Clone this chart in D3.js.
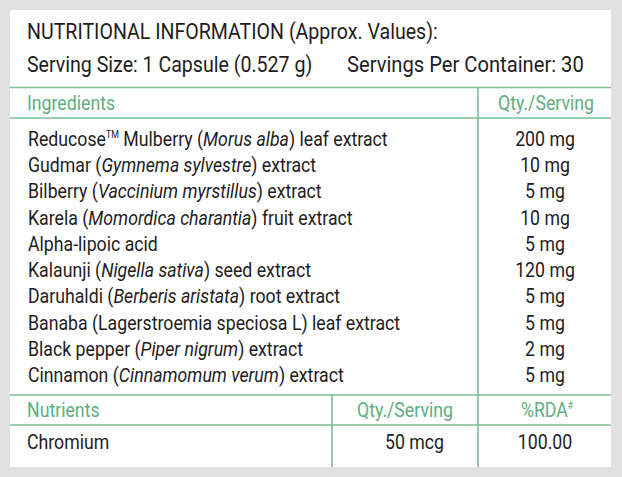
<!DOCTYPE html>
<html>
<head>
<meta charset="utf-8">
<script src="https://cdn.jsdelivr.net/npm/d3@7"></script>
<style>
  body { margin: 0; background: #e1e1e1; }
  svg { display: block; }
  text { font-family: "Roboto", "DejaVu Sans", sans-serif; fill: #1f1c1d; }
  .green { fill: #5fae80; }
</style>
</head>
<body>
<svg id="chart" width="622" height="477"></svg>
<script>
// _text_ = italic, ^text^ = superscript
const ingredients = [
  'Reducose^TM^ Mulberry (_Morus alba_) leaf extract',
  'Gudmar (_Gymnema sylvestre_) extract',
  'Bilberry (_Vaccinium myrstillus_) extract',
  'Karela (_Momordica charantia_) fruit extract',
  'Alpha-lipoic acid',
  'Kalaunji (_Nigella sativa_) seed extract',
  'Daruhaldi (_Berberis aristata_) root extract',
  'Banaba (Lagerstroemia speciosa L) leaf extract',
  'Black pepper (_Piper nigrum_) extract',
  'Cinnamon (_Cinnamomum verum_) extract'
];
const ingredientQty = ['200 mg', '10 mg', '5 mg', '10 mg', '5 mg', '120 mg', '5 mg', '5 mg', '2 mg', '5 mg'];
const nutrients = ['Chromium'];
const nutrientQty = ['50 mcg'];
const nutrientRda = ['100.00'];

const title = 'NUTRITIONAL INFORMATION (Approx. Values):';
const servingSize = 'Serving Size: 1 Capsule (0.527 g)';
const servingsPer = 'Servings Per Container: 30';

const panel = { x: 10, y: 10, w: 601, h: 457 };
const lineColor = '#7cbd96';
const col1 = 332, col2 = 478;
const fs = 21, titleFs = 22.5;

const svg = d3.select('#chart');
svg.append('rect')
  .attr('x', panel.x).attr('y', panel.y)
  .attr('width', panel.w).attr('height', panel.h)
  .attr('fill', '#fff');

const rowY = d3.scalePoint()
  .domain(d3.range(ingredients.length))
  .range([146, 382]);

function richText(sel, str) {
  const parts = str.split(/(_[^_]+_|\^[^^]+\^)/).filter(s => s.length);
  let shift = 0;
  parts.forEach(p => {
    let t;
    if (p[0] === '_') {
      t = sel.append('tspan').attr('font-style', 'italic').text(p.slice(1, -1));
    } else if (p[0] === '^') {
      t = sel.append('tspan').attr('font-size', fs * 0.5).text(p.slice(1, -1));
      t.attr('dy', -8 - shift);
      shift = -8;
      return;
    } else {
      t = sel.append('tspan').text(p);
    }
    if (shift) { t.attr('dy', -shift); shift = 0; }
  });
}

// condensed look: every text is squeezed horizontally around its anchor
let kBody = 1, kTitle = 1;
function place(sel, x, y, k) {
  sel.attr('x', 0).attr('y', 0)
    .attr('transform', `translate(${x},${y}) scale(${k},1)`);
}

const g = svg.append('g');

// measure to get the squeeze factors (target widths)
const probe = g.append('text').attr('font-size', fs);
richText(probe, ingredients[0]);
kBody = 360 / probe.node().getComputedTextLength();
probe.remove();
const probeT = g.append('text').attr('font-size', titleFs).text(title);
kTitle = 411 / probeT.node().getComputedTextLength();
probeT.remove();

// header
g.append('text').attr('font-size', titleFs).text(title).call(place, 27, 39, kTitle);
g.append('text').attr('font-size', titleFs).text(servingSize).call(place, 27, 72, kTitle);
g.append('text').attr('font-size', titleFs).text(servingsPer).call(place, 347, 72, kTitle * 1.03);

// grid lines
const hLines = [87.5, 118, 395, 425];
g.selectAll('.hline')
  .data(hLines)
  .join('line')
  .attr('class', 'hline')
  .attr('x1', panel.x).attr('x2', panel.x + panel.w)
  .attr('y1', d => d).attr('y2', d => d)
  .attr('stroke', lineColor).attr('stroke-width', 1.6);

g.append('line')
  .attr('x1', col2).attr('x2', col2)
  .attr('y1', 87.5).attr('y2', panel.y + panel.h)
  .attr('stroke', lineColor).attr('stroke-width', 1.6);
g.append('line')
  .attr('x1', col1).attr('x2', col1)
  .attr('y1', 395).attr('y2', panel.y + panel.h)
  .attr('stroke', lineColor).attr('stroke-width', 1.6);

// ingredients header
g.append('text').attr('class', 'green').attr('font-size', fs).text('Ingredients')
  .call(place, 27, 110, kBody);
g.append('text').attr('class', 'green').attr('font-size', fs)
  .attr('text-anchor', 'middle').text('Qty./Serving')
  .call(place, 546, 110, kBody);

g.selectAll('.ing')
  .data(ingredients)
  .join('text')
  .attr('class', 'ing')
  .attr('font-size', fs)
  .each(function(d, i) {
    const t = d3.select(this);
    richText(t, d);
    place(t, 28, rowY(i), kBody);
  });

g.selectAll('.qty')
  .data(ingredientQty)
  .join('text')
  .attr('class', 'qty')
  .attr('font-size', fs)
  .attr('text-anchor', 'middle')
  .text(d => d)
  .each(function(d, i) { place(d3.select(this), 545, rowY(i), kBody); });

// nutrients block
g.append('text').attr('class', 'green').attr('font-size', fs).text('Nutrients')
  .call(place, 27, 417, kBody);
g.append('text').attr('class', 'green').attr('font-size', fs)
  .attr('text-anchor', 'end').text('Qty./Serving')
  .call(place, 453, 417, kBody);
const rda = g.append('text').attr('class', 'green').attr('font-size', fs)
  .attr('text-anchor', 'middle');
rda.append('tspan').text('%RDA');
rda.append('tspan').attr('font-size', 10).attr('dy', -8).text('#');
rda.call(place, 547, 417, kBody);

const rowN = i => 449 + i * 26;
g.selectAll('.nut')
  .data(nutrients)
  .join('text')
  .attr('class', 'nut')
  .attr('font-size', fs)
  .text(d => d)
  .each(function(d, i) { place(d3.select(this), 27, rowN(i), kBody); });
g.selectAll('.nqty')
  .data(nutrientQty)
  .join('text')
  .attr('class', 'nqty')
  .attr('font-size', fs).attr('text-anchor', 'end')
  .text(d => d)
  .each(function(d, i) { place(d3.select(this), 444, rowN(i), kBody); });
g.selectAll('.nrda')
  .data(nutrientRda)
  .join('text')
  .attr('class', 'nrda')
  .attr('font-size', fs).attr('text-anchor', 'middle')
  .text(d => d)
  .each(function(d, i) { place(d3.select(this), 545, rowN(i), kBody); });
</script>
</body>
</html>
